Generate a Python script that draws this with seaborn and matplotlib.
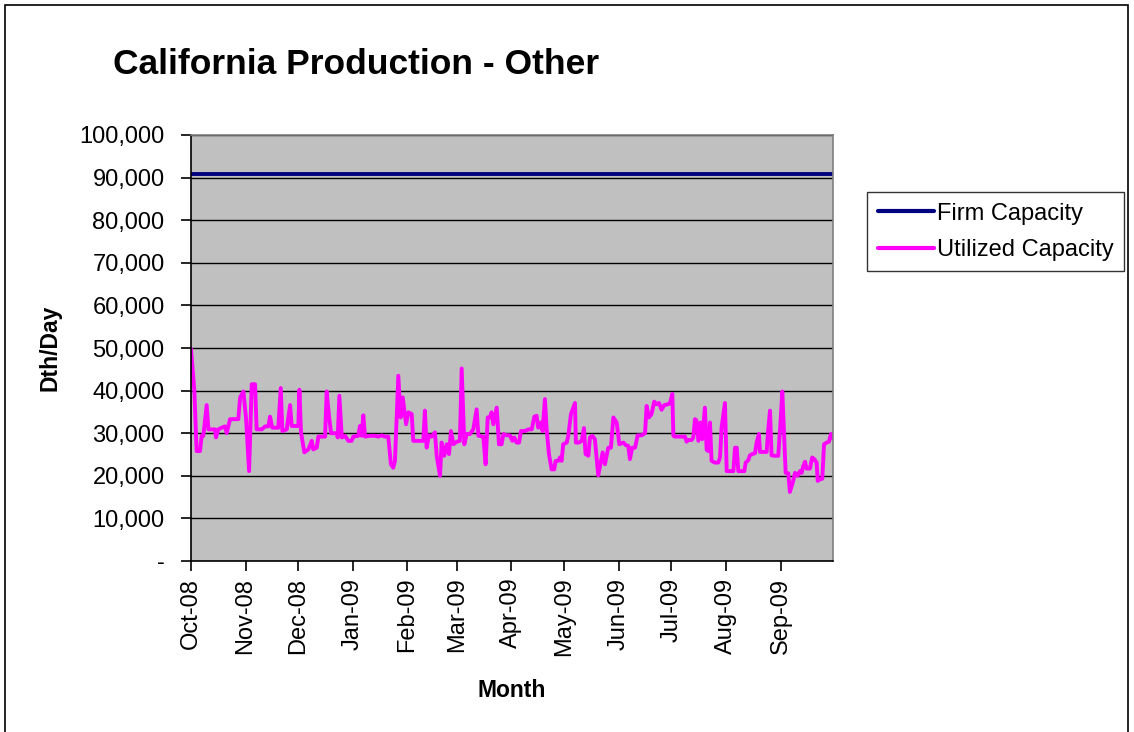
import pandas as pd
import numpy as np
import matplotlib
matplotlib.use("Agg")
import matplotlib.pyplot as plt
import matplotlib.dates as mdates
import matplotlib.ticker as mticker
from matplotlib.patches import Rectangle
import seaborn as sns

# days since 2008-10-01 and utilized capacity (thousand Dth/Day)
util_days = [
    0.0, 1.9, 3.2, 5.1, 6.1, 7.0, 8.9, 9.9, 13.6, 14.2, 15.5, 17.4, 19.3, 20.3,
    22.2, 24.1, 26.9, 27.9, 29.8, 31.3, 33.0, 34.5, 36.4, 37.3, 40.2, 42.1, 44.0,
    44.9, 46.2, 49.6, 51.0, 51.9, 54.4, 56.3, 57.2, 61.0, 61.6, 62.5, 64.4, 66.7,
    68.6, 69.5, 71.4, 72.4, 76.2, 77.1, 78.4, 79.6, 82.8, 83.4, 84.3, 85.7, 87.5,
    89.4, 91.3, 92.2, 95.1, 96.0, 97.0, 97.9, 98.9, 101.7, 104.5, 106.4, 108.3,
    110.2, 112.1, 113.6, 114.9, 115.9, 117.8, 119.1, 120.3, 122.2, 123.5, 125.4,
    126.3, 130.1, 132.0, 132.9, 133.9, 135.2, 136.7, 138.6, 139.6, 141.5, 142.4,
    143.9, 145.3, 146.6, 147.7, 149.1, 151.0, 152.8, 153.8, 155.3, 156.6, 158.5,
    160.4, 162.3, 163.3, 166.1, 167.4, 168.6, 169.9, 170.8, 171.8, 173.7, 175.0,
    176.5, 177.5, 179.4, 181.2, 182.6, 183.7, 185.0, 186.4, 187.5, 189.8, 191.7,
    193.6, 195.1, 196.4, 197.3, 198.9, 199.8, 201.1, 202.1, 203.4, 204.9, 206.4,
    207.2, 208.7, 209.6, 210.6, 211.5, 213.5, 214.4, 215.9, 218.2, 218.7, 220.4,
    222.0, 223.3, 224.2, 225.8, 226.7, 228.0, 229.5, 231.4, 232.8, 233.9, 235.2,
    237.1, 238.6, 240.0, 241.9, 243.4, 245.7, 247.0, 248.5, 249.4, 250.7, 252.3,
    253.8, 256.1, 258.0, 258.9, 260.2, 261.7, 263.2, 264.6, 265.9, 267.4, 268.9,
    271.2, 272.2, 273.5, 274.1, 275.0, 277.8, 280.7, 281.6, 282.6, 284.5, 285.4,
    286.4, 287.3, 288.3, 289.6, 290.5, 292.0, 293.0, 293.9, 294.9, 295.8, 297.7,
    299.6, 300.6, 301.5, 303.4, 304.4, 306.3, 308.2, 309.1, 310.1, 311.0, 312.9,
    314.4, 315.2, 316.7, 317.6, 318.9, 320.5, 321.4, 322.7, 323.3, 325.2, 327.1,
    328.0, 329.0, 329.9, 331.8, 333.7, 334.7, 336.0, 337.1, 337.9, 339.4, 340.3,
    341.3, 342.2, 343.2, 344.7, 346.0, 347.0, 347.9, 348.9, 349.8, 351.7, 353.0,
    354.2, 355.5, 356.1, 357.4, 358.7, 359.7, 361.2, 362.5, 363.6, 364.9,
]
util_k = [
    49.8, 40.0, 25.8, 25.8, 29.4, 29.4, 36.6, 30.9, 30.9, 29.0, 30.9, 31.3, 31.6, 30.0,
    33.3, 33.3, 33.3, 38.4, 39.8, 33.3, 21.1, 41.5, 41.5, 30.9, 30.9, 31.6, 31.6,
    33.9, 31.3, 31.3, 40.6, 30.5, 30.9, 36.6, 31.7, 31.7, 40.2, 30.2, 25.5, 26.2,
    28.2, 26.2, 26.6, 29.2, 29.2, 39.8, 34.1, 30.0, 30.0, 29.0, 38.8, 29.0, 29.4,
    28.2, 28.2, 29.2, 29.4, 31.7, 29.4, 34.2, 29.2, 29.4, 29.4, 29.2, 29.5,
    29.2, 29.2, 22.7, 21.9, 23.5, 43.5, 33.7, 38.4, 32.1, 34.9, 34.5,
    28.2, 28.2, 28.2, 35.3, 26.6, 29.5, 29.2, 30.2, 24.7, 20.0, 27.8,
    24.7, 27.4, 25.1, 30.5, 27.4, 28.0, 28.2, 45.2, 27.4, 29.8, 29.8,
    30.9, 35.6, 29.4, 29.2, 22.7, 33.7, 33.7, 34.9, 32.1, 36.0, 27.4,
    27.4, 29.8, 29.5, 29.5, 28.2, 29.0, 27.8, 27.8, 30.5, 30.5, 30.9,
    30.9, 33.9, 34.1, 31.3, 32.5, 30.5, 38.0, 30.9, 25.1, 21.5, 21.5,
    23.5, 23.5, 24.3, 23.5, 27.4, 27.8, 29.4, 34.5, 37.1, 27.8, 27.8,
    28.2, 31.2, 25.1, 24.7, 29.0, 29.4, 28.6, 20.1, 23.1, 25.5, 22.7,
    26.6, 26.6, 33.7, 32.5, 27.4, 27.8, 27.2, 27.0, 23.9, 26.6, 26.6,
    29.5, 29.5, 30.0, 36.4, 33.7, 34.5, 37.4, 36.8, 37.1, 35.5, 36.6,
    36.8, 37.1, 39.2, 29.4, 29.2, 29.2, 29.2, 28.0, 28.4, 28.4, 29.0,
    33.3, 32.9, 28.2, 32.5, 28.6, 36.0, 26.1, 25.8, 32.5, 23.5, 23.1,
    23.1, 24.3, 31.3, 37.1, 21.1, 21.1, 21.1, 26.6, 26.6, 21.1, 21.1,
    21.1, 23.1, 23.7, 24.8, 25.1, 25.3, 27.8, 29.8, 25.6, 25.6, 25.6,
    30.9, 35.3, 24.8, 24.7, 24.7, 30.9, 39.8, 28.6, 20.7, 20.6, 16.2,
    17.6, 18.8, 20.7, 20.0, 21.1, 20.7, 22.3, 23.3, 21.7, 21.7, 24.3,
    23.9, 23.1, 18.8, 19.2, 19.3, 27.4, 27.8, 28.0, 29.8, 28.7,
]
firm_capacity = 90800

start = pd.Timestamp("2008-10-01")
util = pd.DataFrame({
    "Date": start + pd.to_timedelta(util_days, unit="D"),
    "Dth": np.array(util_k) * 1000,
    "Series": "Utilized Capacity",
})
firm_dates = pd.date_range("2008-10-01", "2009-09-30", freq="D")
firm = pd.DataFrame({
    "Date": firm_dates,
    "Dth": firm_capacity,
    "Series": "Firm Capacity",
})
df = pd.concat([firm, util], ignore_index=True)

sns.set_style("white")
plt.rcParams["font.family"] = ["Liberation Sans", "DejaVu Sans"]
plt.rcParams["text.color"] = "black"
plt.rcParams["axes.labelcolor"] = "black"
plt.rcParams["xtick.color"] = "black"
plt.rcParams["ytick.color"] = "black"

fig = plt.figure(figsize=(11.34, 7.32), dpi=100)
ax = fig.add_axes([191 / 1134, 1 - 561 / 732, 642 / 1134, 426 / 732])
ax.set_facecolor("#C0C0C0")

sns.lineplot(data=df, x="Date", y="Dth", hue="Series",
             palette={"Firm Capacity": "#000080", "Utilized Capacity": "#FF00FF"},
             linewidth=2.8, ax=ax, legend=False)

ax.set_xlim(start, start + pd.Timedelta(days=364.8))
ax.set_ylim(0, 100000)
ax.yaxis.set_major_locator(mticker.MultipleLocator(10000))
ax.yaxis.set_major_formatter(mticker.FuncFormatter(
    lambda v, p: "-" if v == 0 else f"{int(v):,}"))
ax.xaxis.set_major_locator(mdates.MonthLocator())
ax.xaxis.set_major_formatter(mdates.DateFormatter("%b-%y"))
ax.grid(axis="y", color="black", linewidth=1.0)
ax.set_axisbelow(True)

for s in ["left", "bottom"]:
    ax.spines[s].set_color("black")
    ax.spines[s].set_linewidth(1.2)
for s in ["top", "right"]:
    ax.spines[s].set_color("#808080")
    ax.spines[s].set_linewidth(1.2)

ax.tick_params(axis="both", direction="out", length=7, width=1.2,
               color="black", labelsize=17, left=True, bottom=True)
ax.tick_params(axis="x", rotation=90, pad=5)
ax.tick_params(axis="y", pad=12)

ax.set_xlabel("Month", fontsize=16.5, fontweight="bold", labelpad=16)
ax.set_ylabel("Dth/Day", fontsize=16.5, fontweight="bold", labelpad=13)

fig.text(113 / 1134, 1 - 64 / 732, "California Production - Other",
         fontsize=25.5, fontweight="bold", va="center", ha="left")

handles = [plt.Line2D([], [], color="#000080", linewidth=3),
           plt.Line2D([], [], color="#FF00FF", linewidth=3)]
leg = fig.legend(handles, ["Firm Capacity", "Utilized Capacity"],
                 loc="upper left", bbox_to_anchor=(867 / 1134, 1 - 192 / 732),
                 fontsize=17, frameon=True, fancybox=False, borderaxespad=0,
                 handlelength=2.4, handletextpad=0.1, labelspacing=0.6,
                 borderpad=0.45)
leg.get_frame().set_edgecolor("black")
leg.get_frame().set_linewidth(1.0)

fig.patches.append(Rectangle((5 / 1134, -0.02), 1123 / 1134, 1.02 - 5 / 732,
                             transform=fig.transFigure, fill=False,
                             edgecolor="black", linewidth=1.2))

fig.savefig("out.png", dpi=100)
